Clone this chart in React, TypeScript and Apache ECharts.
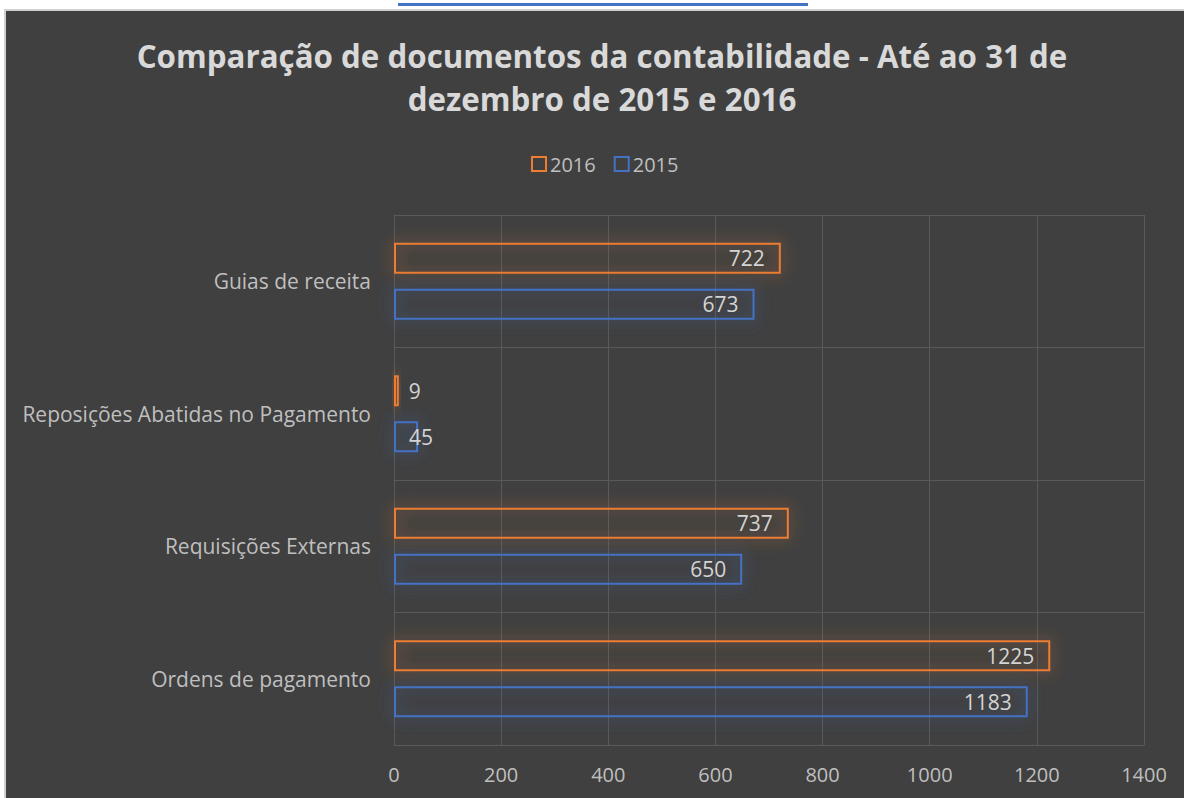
import React, { useEffect, useRef } from "react";
import * as echarts from "echarts";

const categories = [
  "Ordens de pagamento",
  "Requisições Externas",
  "Reposições Abatidas no Pagamento",
  "Guias de receita",
];
const values2015 = [1183, 650, 45, 673];
const values2016 = [1225, 737, 9, 722];
const xTicks = { min: 0, max: 1400, interval: 200 };

const ORANGE = "#ED7D31";
const BLUE = "#4472C4";
const FONT = "'Open Sans', 'Noto Sans', sans-serif";

function buildData(vals: number[]) {
  return vals.map((v) => {
    if (v < 20) {
      return { value: v, label: { position: "right", distance: 10 } };
    }
    if (v < 80) {
      return { value: v, label: { position: "insideLeft", distance: 15 } };
    }
    return { value: v };
  });
}

export default function App() {
  const ref = useRef<HTMLDivElement>(null);
  useEffect(() => {
    if (!ref.current) return;
    const chart = echarts.init(ref.current, undefined, { renderer: "svg" });
    const barSeries = (name: string, color: string, glow: string, vals: number[]) => ({
      name,
      type: "bar",
      data: buildData(vals),
      barWidth: 31,
      barGap: "48%",
      itemStyle: {
        color: "rgba(64,64,64,0)",
        borderColor: color,
        borderWidth: 2,
        shadowColor: glow,
        shadowBlur: 16,
      },
      label: {
        show: true,
        position: "insideRight",
        distance: 16,
        color: "#d4d4d4",
        fontSize: 21,
        fontFamily: FONT,
      },
    });
    chart.setOption({
      animation: false,
      backgroundColor: "transparent",
      title: {
        text: "Comparação de documentos da contabilidade - Até ao 31 de\ndezembro de 2015 e 2016",
        left: 597,
        top: 29,
        textAlign: "center",
        textStyle: {
          color: "#d9d9d9",
          fontSize: 31.3,
          fontWeight: "bold",
          fontFamily: FONT,
          lineHeight: 43,
        },
      },
      legend: {
        data: ["2016", "2015"],
        left: 526,
        top: 149,
        icon: "rect",
        itemWidth: 14,
        itemHeight: 14,
        itemGap: 18,
        textStyle: { color: "#bfbfbf", fontSize: 20, fontFamily: FONT, padding: [0, 0, 0, -1] },
        itemStyle: { shadowBlur: 0 },
      },
      grid: { left: 394, right: 40, top: 215, bottom: 53, containLabel: false },
      xAxis: {
        type: "value",
        min: xTicks.min,
        max: xTicks.max,
        interval: xTicks.interval,
        axisLine: { show: true, lineStyle: { color: "#595959", width: 1 } },
        axisTick: { show: false },
        axisLabel: {
          color: "#bfbfbf",
          fontSize: 20,
          fontFamily: FONT,
          margin: 19,
          formatter: (v: number) => String(v),
        },
        splitLine: { show: true, lineStyle: { color: "#595959", width: 1 } },
      },
      yAxis: {
        type: "category",
        data: categories,
        axisLine: { show: true, lineStyle: { color: "#595959", width: 1 } },
        axisTick: { show: false },
        axisLabel: { color: "#bfbfbf", fontSize: 21, fontFamily: FONT, margin: 23 },
        splitLine: { show: true, lineStyle: { color: "#595959", width: 1 } },
      },
      graphic: [
        {
          type: "line",
          shape: { x1: 394, y1: 215.5, x2: 1144, y2: 215.5 },
          style: { stroke: "#595959", lineWidth: 1 },
          silent: true,
        },
      ],
      series: [
        barSeries("2016", ORANGE, "rgba(237,125,49,0.85)", values2016),
        barSeries("2015", BLUE, "rgba(68,114,196,0.85)", values2015),
      ],
    });
    return () => chart.dispose();
  }, []);

  return (
    <div
      style={{
        position: "absolute",
        left: 0,
        top: 0,
        width: 1184,
        height: 798,
        background: "#ffffff",
        overflow: "hidden",
      }}
    >
      <div
        style={{
          position: "absolute",
          left: 398,
          top: 3,
          width: 410,
          height: 3,
          background: BLUE,
        }}
      />
      <div
        style={{
          position: "absolute",
          left: 4,
          top: 9,
          width: 1190,
          height: 800,
          background: "#404040",
          borderLeft: "2px solid #d0d0d0",
          borderTop: "2px solid #d0d0d0",
          boxSizing: "border-box",
        }}
      />
      <div
        ref={ref}
        style={{ position: "absolute", left: 0, top: 0, width: 1184, height: 798 }}
      />
    </div>
  );
}
